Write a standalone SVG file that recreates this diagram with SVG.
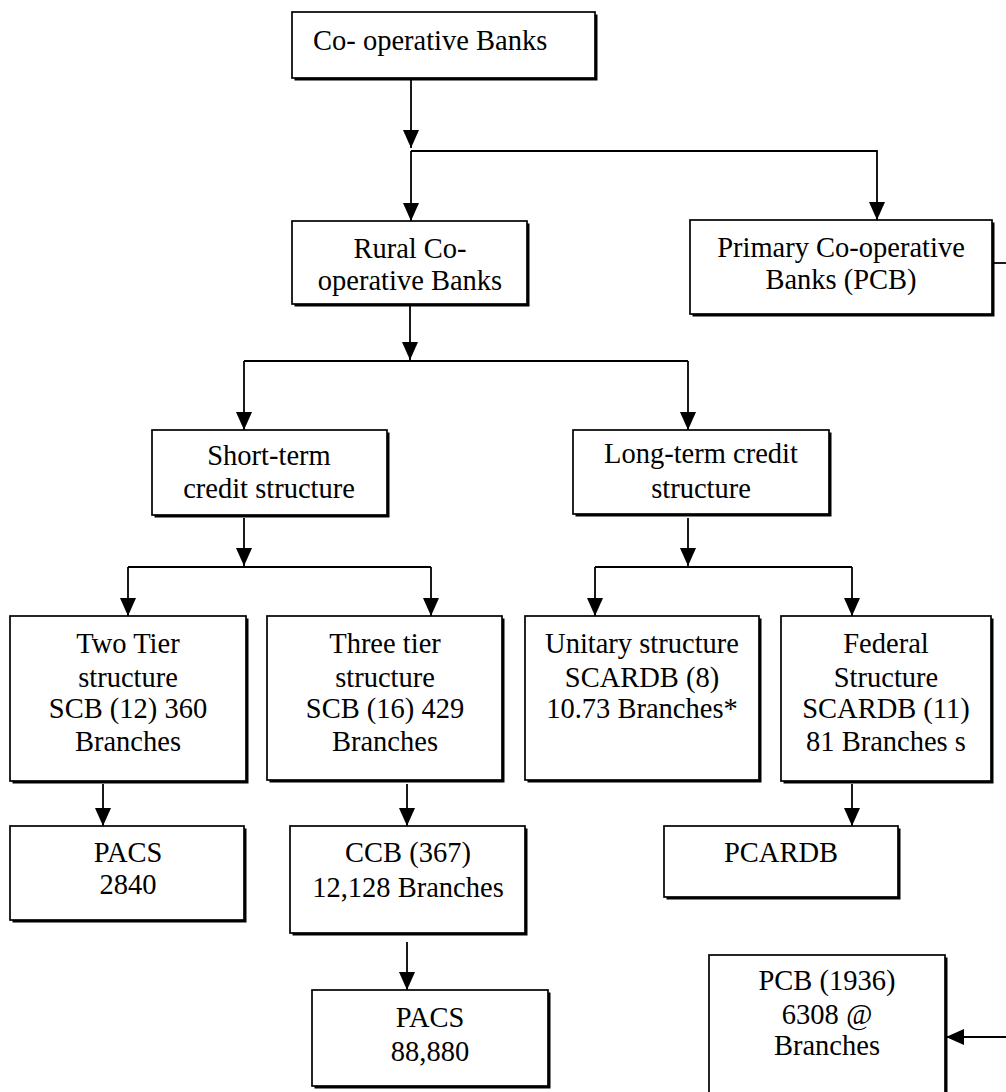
<svg xmlns="http://www.w3.org/2000/svg" width="1006" height="1092" viewBox="0 0 1006 1092">
<style>
.shadow{fill:#000;stroke:none}
.box{fill:#fff;stroke:#000;stroke-width:1.7}
.t{font-family:"Liberation Serif","Times New Roman",serif;font-size:28.5px;fill:#000;text-anchor:middle}
.c{fill:none;stroke:#000;stroke-width:1.8}
.a{marker-end:url(#arr)}
</style>
<defs>
<marker id="arr" markerUnits="userSpaceOnUse" markerWidth="18" markerHeight="16" viewBox="0 0 18 16" refX="18" refY="8" orient="auto">
<path d="M0,0 L18,8 L0,16 z" fill="#000"/>
</marker>
</defs>
<rect width="1006" height="1092" fill="#fff"/>

<g id="connectors">
<path class="c a" d="M411,78 V148"/>
<path class="c a" d="M411,151 H877 V220"/>
<path class="c a" d="M411,151 V221"/>
<path class="c a" d="M410,304 V360"/>
<path class="c" d="M244,361 H688"/>
<path class="c a" d="M244,361 V430"/>
<path class="c a" d="M688,361 V430"/>
<path class="c a" d="M244,518 V566"/>
<path class="c" d="M128,567 H431"/>
<path class="c a" d="M128,567 V616"/>
<path class="c a" d="M431,567 V616"/>
<path class="c a" d="M688,518 V566"/>
<path class="c" d="M595,567 H852"/>
<path class="c a" d="M595,567 V616"/>
<path class="c a" d="M852,567 V616"/>
<path class="c a" d="M103,784 V826"/>
<path class="c a" d="M407,784 V826"/>
<path class="c a" d="M852,784 V826"/>
<path class="c a" d="M407,942 V990"/>
<path class="c" d="M992,263 H1006"/>
<path class="c a" d="M1006,1037 H946"/>
</g>

<g id="coop">
<rect class="shadow" x="294.5" y="14.5" width="303" height="66"/>
<rect class="box" x="292" y="12" width="303" height="66"/>
<text class="t" x="313" y="50" style="text-anchor:start">Co- operative Banks</text>
</g>

<g id="rural">
<rect class="shadow" x="294.5" y="223.5" width="235" height="83"/>
<rect class="box" x="292" y="221" width="235" height="83"/>
<text class="t" x="410" y="258">Rural Co-</text>
<text class="t" x="410" y="290">operative Banks</text>
</g>

<g id="pcb">
<rect class="shadow" x="692.5" y="222.5" width="302" height="94"/>
<rect class="box" x="690" y="220" width="302" height="94"/>
<text class="t" x="841" y="257">Primary Co-operative</text>
<text class="t" x="841" y="289">Banks (PCB)</text>
</g>

<g id="shortterm">
<rect class="shadow" x="154.5" y="432.5" width="235" height="85"/>
<rect class="box" x="152" y="430" width="235" height="85"/>
<text class="t" x="269" y="465">Short-term</text>
<text class="t" x="269" y="498">credit structure</text>
</g>

<g id="longterm">
<rect class="shadow" x="575.5" y="432.5" width="256" height="84"/>
<rect class="box" x="573" y="430" width="256" height="84"/>
<text class="t" x="701" y="463">Long-term credit</text>
<text class="t" x="701" y="498">structure</text>
</g>

<g id="twotier">
<rect class="shadow" x="12.5" y="618.5" width="236" height="165"/>
<rect class="box" x="10" y="616" width="236" height="165"/>
<text class="t" x="128" y="653">Two Tier</text>
<text class="t" x="128" y="687">structure</text>
<text class="t" x="128" y="718">SCB (12) 360</text>
<text class="t" x="128" y="751">Branches</text>
</g>

<g id="threetier">
<rect class="shadow" x="269.5" y="618.5" width="235" height="164"/>
<rect class="box" x="267" y="616" width="235" height="164"/>
<text class="t" x="385" y="653">Three tier</text>
<text class="t" x="385" y="687">structure</text>
<text class="t" x="385" y="718">SCB (16) 429</text>
<text class="t" x="385" y="751">Branches</text>
</g>

<g id="unitary">
<rect class="shadow" x="527.5" y="618.5" width="234" height="164"/>
<rect class="box" x="525" y="616" width="234" height="164"/>
<text class="t" x="642" y="653">Unitary structure</text>
<text class="t" x="642" y="687">SCARDB (8)</text>
<text class="t" x="642" y="718">10.73 Branches*</text>
</g>

<g id="federal">
<rect class="shadow" x="783.5" y="618.5" width="210" height="165"/>
<rect class="box" x="781" y="616" width="210" height="165"/>
<text class="t" x="886" y="653">Federal</text>
<text class="t" x="886" y="687">Structure</text>
<text class="t" x="886" y="718">SCARDB (11)</text>
<text class="t" x="886" y="751">81 Branches s</text>
</g>

<g id="pacs1">
<rect class="shadow" x="12.5" y="828.5" width="234" height="94"/>
<rect class="box" x="10" y="826" width="234" height="94"/>
<text class="t" x="128" y="862">PACS</text>
<text class="t" x="128" y="894">2840</text>
</g>

<g id="ccb">
<rect class="shadow" x="292.5" y="828.5" width="235" height="107"/>
<rect class="box" x="290" y="826" width="235" height="107"/>
<text class="t" x="408" y="862">CCB (367)</text>
<text class="t" x="408" y="897">12,128 Branches</text>
</g>

<g id="pacs2">
<rect class="shadow" x="314.5" y="992.5" width="236" height="96"/>
<rect class="box" x="312" y="990" width="236" height="96"/>
<text class="t" x="430" y="1027">PACS</text>
<text class="t" x="430" y="1061">88,880</text>
</g>

<g id="pcardb">
<rect class="shadow" x="666.5" y="828.5" width="234" height="71"/>
<rect class="box" x="664" y="826" width="234" height="71"/>
<text class="t" x="781" y="862">PCARDB</text>
</g>

<g id="pcb1936">
<rect class="shadow" x="711.5" y="957.5" width="236" height="150"/>
<rect class="box" x="709" y="955" width="236" height="150"/>
<text class="t" x="827" y="990">PCB (1936)</text>
<text class="t" x="827" y="1024">6308 <tspan font-style="italic">@</tspan></text>
<text class="t" x="827" y="1055">Branches</text>
</g>
</svg>
